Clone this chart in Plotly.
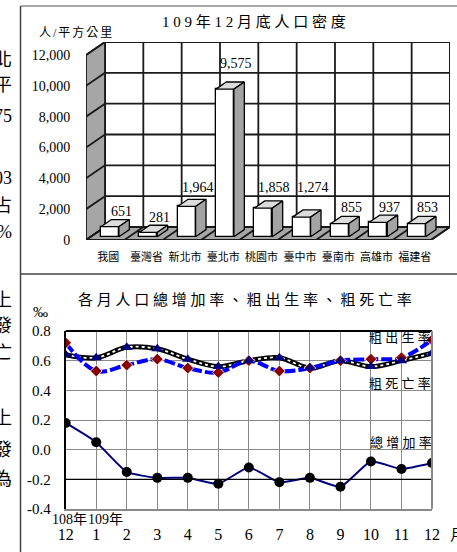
import plotly.graph_objects as go

W, H = 457, 552

# ---------------- data ----------------
regions = ["我國", "臺灣省", "新北市", "臺北市", "桃園市", "臺中市", "臺南市", "高雄市", "福建省"]
density = [651, 281, 1964, 9575, 1858, 1274, 855, 937, 853]
density_ticks = [0, 2000, 4000, 6000, 8000, 10000, 12000]

months = ["12", "1", "2", "3", "4", "5", "6", "7", "8", "9", "10", "11", "12"]
year_marks = ["108年", "109年"]
birth_rate = [0.72, 0.53, 0.57, 0.61, 0.55, 0.52, 0.60, 0.53, 0.55, 0.60, 0.61, 0.62, 0.74]
death_rate = [0.64, 0.62, 0.69, 0.68, 0.61, 0.56, 0.60, 0.62, 0.55, 0.60, 0.56, 0.60, 0.65]
total_rate = [0.18, 0.05, -0.15, -0.19, -0.19, -0.23, -0.12, -0.22, -0.19, -0.25, -0.08, -0.13, -0.09]
rate_ticks = [-0.4, -0.2, 0.0, 0.2, 0.4, 0.6, 0.8]

# cropped text of the neighbouring page column
side_text = ["北", "平", "75", "03", "占", "%", "上", "發", "亡", "上", "發", "為"]

# ---------------- style / layout constants ----------------
FONT = "Liberation Serif, 'Noto Sans CJK TC', serif"
SP = "\u2005"


def spaced(s, sep=SP):
    return sep.join(list(s))


def pxx(p):
    return p / W


def pxy(p):
    return 1 - p / H


def ann(**kw):
    d = dict(showarrow=False, xanchor="center", yanchor="middle")
    d.update(kw)
    return d


# top chart geometry (pixels)
T_LEFT, T_CAT, T_DXP, T_DYP = 86, 38.33, 19, 13
T_BASE, T_TOP_FRONT, T_YMAX = 240, 55, 12000
ys = (T_BASE - T_TOP_FRONT) / T_YMAX
DX = T_DXP / T_CAT
DY = T_DYP / ys
n = len(regions)
F0, F1 = 0.25, 0.80
BW = 18 / T_CAT
LABEL_NUDGE = [0, 0, 4, 10, 5, 14, 1, 0, 1]

# bottom chart geometry (pixels)
B_LEFT, B_RIGHT, B_TOP, B_BOT = 65.7, 432, 331, 509

fig = go.Figure()

# ---------- top chart: 3D-looking bars ----------
fig.add_trace(go.Bar(
    x=[i + F0 * DX for i in range(n)], y=density, base=F0 * DY, width=BW,
    marker=dict(color="white", line=dict(color="black", width=1.3)),
    xaxis="x", yaxis="y", hoverinfo="skip", showlegend=False))

ddx = (F1 - F0) * DX
b0, b1 = F0 * DY, F1 * DY
for i, v in enumerate(density):
    xl = i - BW / 2 + F0 * DX
    xr = xl + BW
    fig.add_trace(go.Scatter(
        x=[xl, xr, xr + ddx, xl + ddx, xl], y=[v + b0, v + b0, v + b1, v + b1, v + b0],
        fill="toself", fillcolor="#dcdcdc", mode="lines",
        line=dict(color="black", width=1.3), xaxis="x", yaxis="y",
        hoverinfo="skip", showlegend=False))
    fig.add_trace(go.Scatter(
        x=[xr, xr + ddx, xr + ddx, xr, xr], y=[b0, b1, v + b1, v + b0, b0],
        fill="toself", fillcolor="#a3a3a3", mode="lines",
        line=dict(color="black", width=1.3), xaxis="x", yaxis="y",
        hoverinfo="skip", showlegend=False))

shapes = []
GRID = dict(color="#1a1a1a", width=1.8)
xa, xb = -0.5, n - 0.5
# back wall
shapes.append(dict(type="rect", xref="x", yref="y", x0=xa + DX, x1=xb + DX, y0=DY, y1=T_YMAX + DY,
                   line=GRID, fillcolor="white", layer="below"))
for t in density_ticks:
    shapes.append(dict(type="line", xref="x", yref="y", x0=xa + DX, x1=xb + DX, y0=t + DY, y1=t + DY,
                       line=GRID, layer="below"))
for i in range(n + 1):
    shapes.append(dict(type="line", xref="x", yref="y", x0=xa + i + DX, x1=xa + i + DX, y0=DY,
                       y1=T_YMAX + DY, line=GRID, layer="below"))
# left wall
shapes.append(dict(type="path", xref="x", yref="y",
                   path=f"M{xa},0 L{xa + DX},{DY} L{xa + DX},{T_YMAX + DY} L{xa},{T_YMAX} Z",
                   fillcolor="#a6a6a6", line=GRID, layer="below"))
for t in density_ticks:
    shapes.append(dict(type="line", xref="x", yref="y", x0=xa, x1=xa + DX, y0=t, y1=t + DY,
                       line=GRID, layer="below"))
# floor
shapes.append(dict(type="path", xref="x", yref="y",
                   path=f"M{xa},0 L{xb},0 L{xb + DX},{DY} L{xa + DX},{DY} Z",
                   fillcolor="#a6a6a6", line=GRID, layer="below"))
for i in range(n + 1):
    shapes.append(dict(type="line", xref="x", yref="y", x0=xa + i, x1=xa + i + DX, y0=0, y1=DY,
                       line=GRID, layer="below"))

annotations = []
for i, v in enumerate(density):
    annotations.append(ann(x=i + F0 * DX + 0.29, y=v + F1 * DY, xref="x", yref="y",
                           text=f"{v:,}", yshift=8 + LABEL_NUDGE[i], font=dict(size=14)))

# ---------- bottom chart: monthly rates ----------
mx = list(range(len(months)))
fig.add_trace(go.Scatter(x=mx, y=death_rate, mode="lines", line=dict(color="black", width=5, shape="spline"),
                         xaxis="x2", yaxis="y2", hoverinfo="skip", showlegend=False))
fig.add_trace(go.Scatter(x=mx, y=death_rate, mode="lines",
                         line=dict(color="white", width=1.8, shape="spline", dash="3px,3px"),
                         xaxis="x2", yaxis="y2", hoverinfo="skip", showlegend=False))
fig.add_trace(go.Scatter(x=mx, y=birth_rate, mode="lines",
                         line=dict(color="#0000ff", width=4, shape="spline", dash="11px,3px"),
                         xaxis="x2", yaxis="y2", hoverinfo="skip", showlegend=False))
fig.add_trace(go.Scatter(x=mx, y=birth_rate, mode="markers",
                         marker=dict(symbol="diamond", size=9, color="#8b0000", line=dict(color="white", width=0.8)),
                         xaxis="x2", yaxis="y2", hoverinfo="skip", showlegend=False))
fig.add_trace(go.Scatter(x=mx, y=death_rate, mode="markers",
                         marker=dict(symbol="triangle-up", size=10, color="#000080"),
                         xaxis="x2", yaxis="y2", hoverinfo="skip", showlegend=False))
fig.add_trace(go.Scatter(x=mx, y=total_rate, mode="lines+markers",
                         line=dict(color="#000080", width=2, shape="spline", smoothing=0.5),
                         marker=dict(symbol="circle", size=10, color="black"),
                         xaxis="x2", yaxis="y2", hoverinfo="skip", showlegend=False))

shapes.append(dict(type="line", xref="x2 domain", yref="y2", x0=0, x1=1, y0=-0.2, y1=-0.2,
                   line=dict(color="black", width=1.3)))
shapes.append(dict(type="line", xref="x2 domain", yref="y2 domain", x0=0, x1=1, y0=1, y1=1,
                   line=dict(color="black", width=2)))
shapes.append(dict(type="line", xref="x2 domain", yref="y2 domain", x0=1, x1=1, y0=0, y1=1,
                   line=dict(color="#8a8a8a", width=2)))

# outer frame
shapes.append(dict(type="line", xref="paper", yref="paper", x0=pxx(20.5), x1=1, y0=pxy(6), y1=pxy(6),
                   line=dict(color="#8c8c8c", width=1.5)))
shapes.append(dict(type="line", xref="paper", yref="paper", x0=pxx(20.5), x1=1, y0=pxy(274), y1=pxy(274),
                   line=dict(color="#444", width=1.5)))
shapes.append(dict(type="line", xref="paper", yref="paper", x0=pxx(20.5), x1=pxx(20.5), y0=0, y1=pxy(6),
                   line=dict(color="#444", width=1.5)))

# titles and labels
annotations += [
    ann(x=pxx(254), y=pxy(22), xref="paper", yref="paper", text=spaced("109年12月底人口密度"),
        font=dict(size=15)),
    ann(x=pxx(75), y=pxy(32), xref="paper", yref="paper", text=spaced("人/平方公里", "\u2006"),
        font=dict(size=12)),
    ann(x=pxx(245), y=pxy(300), xref="paper", yref="paper", text=spaced("各月人口總增加率、粗出生率、粗死亡率"),
        font=dict(size=15)),
    ann(x=pxx(40), y=pxy(312), xref="paper", yref="paper", text="‰", font=dict(size=15)),
    ann(x=10.95, y=0.753, xref="x2", yref="y2", text=spaced("粗出生率"), font=dict(size=13)),
    ann(x=10.95, y=0.449, xref="x2", yref="y2", text=spaced("粗死亡率"), font=dict(size=13)),
    ann(x=10.98, y=0.045, xref="x2", yref="y2", text=spaced("總增加率"), font=dict(size=13)),
    ann(x=0, y=pxy(519), xref="x2", yref="paper", text=year_marks[0], xshift=4, font=dict(size=14)),
    ann(x=1, y=pxy(519), xref="x2", yref="paper", text=year_marks[1], xshift=9, font=dict(size=14)),
    ann(x=pxx(448), y=pxy(535), xref="paper", yref="paper", text="月", xanchor="left", font=dict(size=15)),
]
side_y = [60, 85, 116, 178, 206, 232, 300, 326, 353, 418, 450, 479]
for s, yy in zip(side_text, side_y):
    annotations.append(ann(x=pxx(14), y=pxy(yy), xref="paper", yref="paper", text=s,
                           xanchor="right", font=dict(size=18)))

HIDE = "rgba(0,0,0,0)"
fig.update_layout(
    width=W, height=H, margin=dict(l=0, r=0, t=0, b=0, pad=0, autoexpand=False),
    paper_bgcolor="white", plot_bgcolor="rgba(0,0,0,0)",
    font=dict(family=FONT, color="black"),
    showlegend=False, bargap=0,
    xaxis=dict(domain=[pxx(T_LEFT), pxx(T_LEFT + n * T_CAT + T_DXP)], range=[xa, xb + DX],
               tickvals=[i + 0.08 for i in range(n)], ticktext=regions, tickfont=dict(size=11),
               ticks="outside", ticklen=7, tickcolor=HIDE, showgrid=False, zeroline=False,
               showline=False, anchor="y", fixedrange=True, automargin=False),
    yaxis=dict(domain=[pxy(T_BASE), pxy(T_TOP_FRONT - T_DYP)], range=[0, T_YMAX + DY],
               tickvals=density_ticks, ticktext=[f"{t:,}" for t in density_ticks], tickfont=dict(size=14),
               ticks="outside", ticklen=12, tickcolor=HIDE, showgrid=False, zeroline=False,
               showline=False, anchor="x", fixedrange=True, automargin=False),
    xaxis2=dict(domain=[pxx(B_LEFT), pxx(B_RIGHT)], range=[0, len(months) - 1],
                tickvals=mx, ticktext=months, tickfont=dict(size=16),
                ticks="outside", ticklen=10, tickcolor=HIDE, showgrid=True, gridcolor="#8a8a8a",
                gridwidth=1.3, zeroline=False, showline=True, linecolor="#8a8a8a", linewidth=2,
                anchor="y2", fixedrange=True, automargin=False),
    yaxis2=dict(domain=[pxy(B_BOT), pxy(B_TOP)], range=[rate_ticks[0], rate_ticks[-1]],
                tickvals=rate_ticks, ticktext=[f"{t:.1f}" for t in rate_ticks], tickfont=dict(size=15),
                ticks="outside", ticklen=10, tickcolor=HIDE, showgrid=True, gridcolor="#8a8a8a",
                gridwidth=1.3, zeroline=False, showline=True, linecolor="black", linewidth=2,
                anchor="x2", fixedrange=True, automargin=False),
    shapes=shapes, annotations=annotations,
)

fig.write_html("out.html", config={"displayModeBar": False},
               post_script="document.body.style.margin='0';document.body.style.overflow='hidden';")
